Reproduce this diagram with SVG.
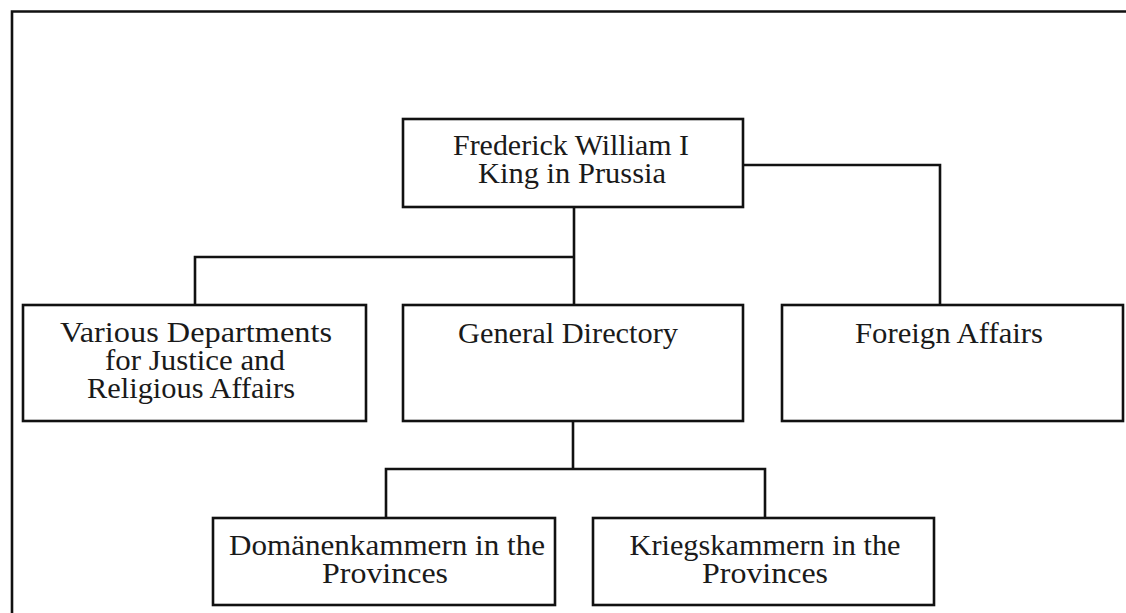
<svg xmlns="http://www.w3.org/2000/svg" width="1126" height="613" viewBox="0 0 1126 613">
<style>
.box{fill:#fff;stroke:#111;stroke-width:2.6}
.ln{fill:none;stroke:#111;stroke-width:2.6}
.t{font-family:"Liberation Serif","Times New Roman",serif;font-size:29px;fill:#1a1a1a;text-anchor:middle}
</style>
<rect width="1126" height="613" fill="#fff"/>
<path class="ln" d="M12 613 V11.5 H1126" stroke-width="3"/>
<g id="connectors">
<path class="ln" d="M743 165 H940 V305"/>
<path class="ln" d="M574 207 V305"/>
<path class="ln" d="M574 257 H195 V305"/>
<path class="ln" d="M573 421 V469"/>
<path class="ln" d="M386 518 V469 H765 V518"/>
</g>
<g id="king">
<rect class="box" x="403" y="119" width="340" height="88"/>
<text class="t" x="571" y="155" textLength="236" lengthAdjust="spacingAndGlyphs">Frederick William I</text>
<text class="t" x="572" y="183" textLength="188" lengthAdjust="spacingAndGlyphs">King in Prussia</text>
</g>
<g id="various">
<rect class="box" x="23" y="305" width="343" height="116"/>
<text class="t" x="196" y="342" textLength="272" lengthAdjust="spacingAndGlyphs">Various Departments</text>
<text class="t" x="195" y="370" textLength="180" lengthAdjust="spacingAndGlyphs">for Justice and</text>
<text class="t" x="191" y="398" textLength="208" lengthAdjust="spacingAndGlyphs">Religious Affairs</text>
</g>
<g id="general">
<rect class="box" x="403" y="305" width="340" height="116"/>
<text class="t" x="568" y="343" textLength="220" lengthAdjust="spacingAndGlyphs">General Directory</text>
</g>
<g id="foreign">
<rect class="box" x="782" y="305" width="341" height="116"/>
<text class="t" x="949" y="343" textLength="188" lengthAdjust="spacingAndGlyphs">Foreign Affairs</text>
</g>
<g id="domaenen">
<rect class="box" x="213" y="518" width="342" height="87"/>
<text class="t" x="387" y="555" textLength="316" lengthAdjust="spacingAndGlyphs">Domänenkammern in the</text>
<text class="t" x="385" y="583" textLength="126" lengthAdjust="spacingAndGlyphs">Provinces</text>
</g>
<g id="kriegs">
<rect class="box" x="593" y="518" width="341" height="87"/>
<text class="t" x="765" y="555" textLength="271" lengthAdjust="spacingAndGlyphs">Kriegskammern in the</text>
<text class="t" x="765" y="583" textLength="126" lengthAdjust="spacingAndGlyphs">Provinces</text>
</g>
</svg>
